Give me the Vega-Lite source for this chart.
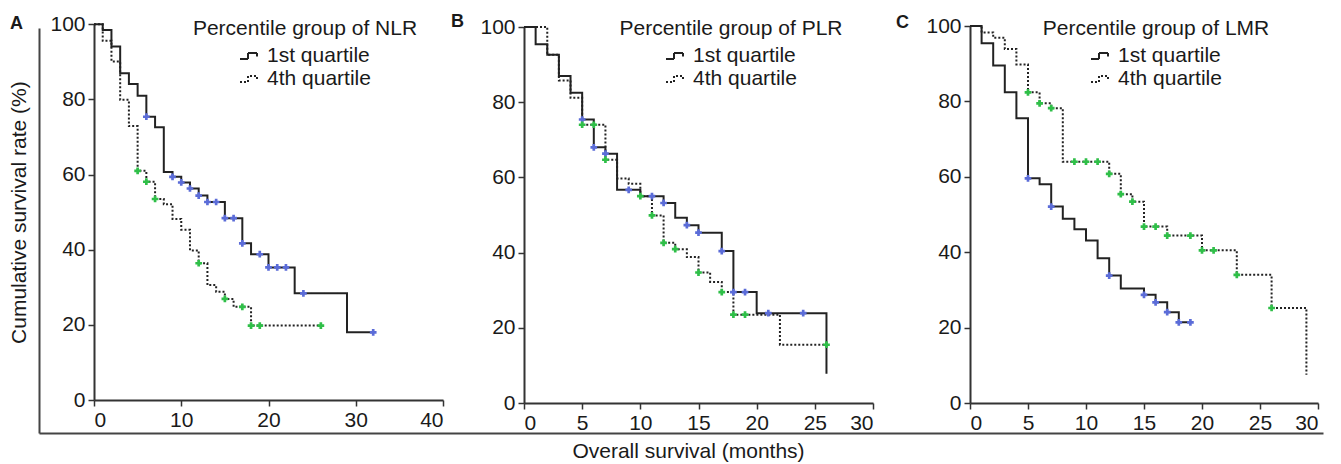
{
  "$schema": "https://vega.github.io/schema/vega-lite/v6.json",
  "width": 1284,
  "height": 405,
  "autosize": {"type": "none"},
  "padding": {"left": 39, "top": 28, "right": 18, "bottom": 31},
  "background": "white",
  "config": {
    "font": "Liberation Sans",
    "view": {"stroke": null},
    "axis": {
      "grid": false,
      "labelFont": "Liberation Sans",
      "labelFontSize": 21,
      "labelColor": "#1a1a1a",
      "domainColor": "#333333",
      "domainWidth": 2,
      "tickColor": "#333333",
      "tickWidth": 1.5,
      "tickSize": 6,
      "labelPadding": 3,
      "titleFont": "Liberation Sans",
      "titleFontSize": 21,
      "titleFontWeight": "normal",
      "titleColor": "#1a1a1a"
    },
    "legend": {
      "titleFont": "Liberation Sans",
      "titleFontSize": 21,
      "titleFontWeight": "normal",
      "titleColor": "#1a1a1a",
      "titleLimit": 600,
      "labelFont": "Liberation Sans",
      "labelFontSize": 21,
      "labelColor": "#1a1a1a",
      "labelLimit": 400,
      "titlePadding": 6,
      "rowPadding": 2,
      "padding": 0,
      "labelOffset": 6,
      "symbolType": "M-1,0.3H-0.2V-0.3H0.7V0.05",
      "symbolSize": 400,
      "symbolStrokeWidth": 2,
      "symbolStrokeColor": "#222222",
      "symbolFillColor": "transparent",
      "titleAnchor": "middle",
      "titleAlign": "center"
    }
  },
  "datasets": {
    "nlr_curve": [
      {"t": 0, "s": 100, "g": "1st quartile"}, {"t": 1, "s": 98.5, "g": "1st quartile"}, {"t": 2, "s": 94.1, "g": "1st quartile"},
      {"t": 3, "s": 87.0, "g": "1st quartile"}, {"t": 4, "s": 84.1, "g": "1st quartile"}, {"t": 5, "s": 81.0, "g": "1st quartile"},
      {"t": 6, "s": 75.4, "g": "1st quartile"}, {"t": 7, "s": 72.6, "g": "1st quartile"}, {"t": 8, "s": 60.7, "g": "1st quartile"},
      {"t": 9, "s": 59.4, "g": "1st quartile"}, {"t": 10, "s": 57.9, "g": "1st quartile"}, {"t": 11, "s": 56.3, "g": "1st quartile"},
      {"t": 12, "s": 54.4, "g": "1st quartile"}, {"t": 13, "s": 52.7, "g": "1st quartile"}, {"t": 15, "s": 48.4, "g": "1st quartile"},
      {"t": 17, "s": 41.7, "g": "1st quartile"}, {"t": 18, "s": 38.8, "g": "1st quartile"}, {"t": 20, "s": 35.3, "g": "1st quartile"},
      {"t": 23, "s": 28.4, "g": "1st quartile"}, {"t": 29, "s": 18.0, "g": "1st quartile"}, {"t": 32, "s": 18.0, "g": "1st quartile"},
      {"t": 0, "s": 100, "g": "4th quartile"}, {"t": 1, "s": 95.6, "g": "4th quartile"}, {"t": 2, "s": 90.1, "g": "4th quartile"},
      {"t": 3, "s": 79.9, "g": "4th quartile"}, {"t": 4, "s": 72.9, "g": "4th quartile"}, {"t": 5, "s": 61.0, "g": "4th quartile"},
      {"t": 6, "s": 58.1, "g": "4th quartile"}, {"t": 7, "s": 53.5, "g": "4th quartile"}, {"t": 8, "s": 52.1, "g": "4th quartile"},
      {"t": 9, "s": 48.2, "g": "4th quartile"}, {"t": 10, "s": 45.3, "g": "4th quartile"}, {"t": 11, "s": 39.8, "g": "4th quartile"},
      {"t": 12, "s": 36.4, "g": "4th quartile"}, {"t": 13, "s": 30.6, "g": "4th quartile"}, {"t": 14, "s": 28.8, "g": "4th quartile"},
      {"t": 15, "s": 26.9, "g": "4th quartile"}, {"t": 16, "s": 24.8, "g": "4th quartile"}, {"t": 18, "s": 19.8, "g": "4th quartile"},
      {"t": 26, "s": 19.8, "g": "4th quartile"}
    ],
    "nlr_cens": [
      {"t": 6, "s": 75.4, "c": "q1"}, {"t": 9, "s": 59.4, "c": "q1"}, {"t": 10, "s": 57.9, "c": "q1"},
      {"t": 11, "s": 56.3, "c": "q1"}, {"t": 12, "s": 54.4, "c": "q1"}, {"t": 13, "s": 52.7, "c": "q1"},
      {"t": 14, "s": 52.7, "c": "q1"}, {"t": 15, "s": 48.4, "c": "q1"}, {"t": 16, "s": 48.4, "c": "q1"},
      {"t": 17, "s": 41.7, "c": "q1"}, {"t": 19, "s": 38.8, "c": "q1"}, {"t": 20, "s": 35.3, "c": "q1"},
      {"t": 21, "s": 35.3, "c": "q1"}, {"t": 22, "s": 35.3, "c": "q1"}, {"t": 24, "s": 28.4, "c": "q1"},
      {"t": 32, "s": 18.0, "c": "q1"},
      {"t": 5, "s": 61.0, "c": "q4"}, {"t": 6, "s": 58.1, "c": "q4"}, {"t": 7, "s": 53.5, "c": "q4"},
      {"t": 12, "s": 36.4, "c": "q4"}, {"t": 15, "s": 26.9, "c": "q4"}, {"t": 17, "s": 24.8, "c": "q4"},
      {"t": 18, "s": 19.8, "c": "q4"}, {"t": 19, "s": 19.8, "c": "q4"}, {"t": 26, "s": 19.8, "c": "q4"}
    ],
    "plr_curve": [
      {"t": 0, "s": 100, "g": "1st quartile"}, {"t": 1, "s": 95.4, "g": "1st quartile"}, {"t": 2, "s": 92.6, "g": "1st quartile"},
      {"t": 3, "s": 87.0, "g": "1st quartile"}, {"t": 4, "s": 82.5, "g": "1st quartile"}, {"t": 5, "s": 75.4, "g": "1st quartile"},
      {"t": 6, "s": 68.0, "g": "1st quartile"}, {"t": 7, "s": 66.3, "g": "1st quartile"}, {"t": 8, "s": 56.7, "g": "1st quartile"},
      {"t": 10, "s": 55.0, "g": "1st quartile"}, {"t": 12, "s": 53.2, "g": "1st quartile"}, {"t": 13, "s": 49.3, "g": "1st quartile"},
      {"t": 14, "s": 47.3, "g": "1st quartile"}, {"t": 15, "s": 45.3, "g": "1st quartile"}, {"t": 17, "s": 40.4, "g": "1st quartile"},
      {"t": 18, "s": 29.5, "g": "1st quartile"}, {"t": 20, "s": 23.9, "g": "1st quartile"}, {"t": 26, "s": 7.8, "g": "1st quartile"},
      {"t": 0, "s": 100, "g": "4th quartile"}, {"t": 2, "s": 92.6, "g": "4th quartile"}, {"t": 3, "s": 85.8, "g": "4th quartile"},
      {"t": 4, "s": 81.2, "g": "4th quartile"}, {"t": 5, "s": 74.0, "g": "4th quartile"}, {"t": 7, "s": 64.7, "g": "4th quartile"},
      {"t": 8, "s": 59.7, "g": "4th quartile"}, {"t": 9, "s": 58.3, "g": "4th quartile"}, {"t": 10, "s": 55.0, "g": "4th quartile"},
      {"t": 11, "s": 49.9, "g": "4th quartile"}, {"t": 12, "s": 42.6, "g": "4th quartile"}, {"t": 13, "s": 40.9, "g": "4th quartile"},
      {"t": 14, "s": 38.8, "g": "4th quartile"}, {"t": 15, "s": 34.7, "g": "4th quartile"}, {"t": 16, "s": 32.2, "g": "4th quartile"},
      {"t": 17, "s": 29.5, "g": "4th quartile"}, {"t": 18, "s": 23.5, "g": "4th quartile"}, {"t": 22, "s": 15.5, "g": "4th quartile"},
      {"t": 26, "s": 15.5, "g": "4th quartile"}
    ],
    "plr_cens": [
      {"t": 5, "s": 75.4, "c": "q1"}, {"t": 6, "s": 68.0, "c": "q1"}, {"t": 7, "s": 66.3, "c": "q1"},
      {"t": 9, "s": 56.7, "c": "q1"}, {"t": 11, "s": 55.0, "c": "q1"}, {"t": 12, "s": 53.2, "c": "q1"},
      {"t": 14, "s": 47.3, "c": "q1"}, {"t": 15, "s": 45.3, "c": "q1"}, {"t": 17, "s": 40.4, "c": "q1"},
      {"t": 18, "s": 29.5, "c": "q1"}, {"t": 19, "s": 29.5, "c": "q1"}, {"t": 21, "s": 23.9, "c": "q1"},
      {"t": 24, "s": 23.9, "c": "q1"},
      {"t": 5, "s": 74.0, "c": "q4"}, {"t": 6, "s": 74.0, "c": "q4"}, {"t": 7, "s": 64.7, "c": "q4"},
      {"t": 10, "s": 55.0, "c": "q4"}, {"t": 11, "s": 49.9, "c": "q4"}, {"t": 12, "s": 42.6, "c": "q4"},
      {"t": 13, "s": 40.9, "c": "q4"}, {"t": 15, "s": 34.7, "c": "q4"}, {"t": 17, "s": 29.5, "c": "q4"},
      {"t": 18, "s": 23.5, "c": "q4"}, {"t": 19, "s": 23.5, "c": "q4"}, {"t": 26, "s": 15.5, "c": "q4"}
    ],
    "lmr_curve": [
      {"t": 0, "s": 100, "g": "1st quartile"}, {"t": 1, "s": 95.4, "g": "1st quartile"}, {"t": 2, "s": 89.5, "g": "1st quartile"},
      {"t": 3, "s": 82.4, "g": "1st quartile"}, {"t": 4, "s": 75.5, "g": "1st quartile"}, {"t": 5, "s": 59.6, "g": "1st quartile"},
      {"t": 6, "s": 58.0, "g": "1st quartile"}, {"t": 7, "s": 52.1, "g": "1st quartile"}, {"t": 8, "s": 48.9, "g": "1st quartile"},
      {"t": 9, "s": 46.1, "g": "1st quartile"}, {"t": 10, "s": 43.1, "g": "1st quartile"}, {"t": 11, "s": 38.4, "g": "1st quartile"},
      {"t": 12, "s": 33.8, "g": "1st quartile"}, {"t": 13, "s": 30.4, "g": "1st quartile"}, {"t": 15, "s": 28.7, "g": "1st quartile"},
      {"t": 16, "s": 26.7, "g": "1st quartile"}, {"t": 17, "s": 24.1, "g": "1st quartile"}, {"t": 18, "s": 21.4, "g": "1st quartile"},
      {"t": 19, "s": 21.4, "g": "1st quartile"},
      {"t": 0, "s": 100, "g": "4th quartile"}, {"t": 1, "s": 98.3, "g": "4th quartile"}, {"t": 2, "s": 96.9, "g": "4th quartile"},
      {"t": 3, "s": 93.9, "g": "4th quartile"}, {"t": 4, "s": 89.8, "g": "4th quartile"}, {"t": 5, "s": 82.4, "g": "4th quartile"},
      {"t": 6, "s": 79.5, "g": "4th quartile"}, {"t": 7, "s": 78.2, "g": "4th quartile"}, {"t": 8, "s": 64.0, "g": "4th quartile"},
      {"t": 12, "s": 60.8, "g": "4th quartile"}, {"t": 13, "s": 55.4, "g": "4th quartile"}, {"t": 14, "s": 53.4, "g": "4th quartile"},
      {"t": 15, "s": 46.8, "g": "4th quartile"}, {"t": 17, "s": 44.4, "g": "4th quartile"}, {"t": 20, "s": 40.5, "g": "4th quartile"},
      {"t": 23, "s": 34.0, "g": "4th quartile"}, {"t": 26, "s": 25.2, "g": "4th quartile"}, {"t": 29, "s": 7.5, "g": "4th quartile"}
    ],
    "lmr_cens": [
      {"t": 5, "s": 59.6, "c": "q1"}, {"t": 7, "s": 52.1, "c": "q1"}, {"t": 12, "s": 33.8, "c": "q1"},
      {"t": 15, "s": 28.7, "c": "q1"}, {"t": 16, "s": 26.7, "c": "q1"}, {"t": 17, "s": 24.1, "c": "q1"},
      {"t": 18, "s": 21.4, "c": "q1"}, {"t": 19, "s": 21.4, "c": "q1"},
      {"t": 5, "s": 82.4, "c": "q4"}, {"t": 6, "s": 79.5, "c": "q4"}, {"t": 7, "s": 78.2, "c": "q4"},
      {"t": 9, "s": 64.0, "c": "q4"}, {"t": 10, "s": 64.0, "c": "q4"}, {"t": 11, "s": 64.0, "c": "q4"},
      {"t": 12, "s": 60.8, "c": "q4"}, {"t": 13, "s": 55.4, "c": "q4"}, {"t": 14, "s": 53.4, "c": "q4"},
      {"t": 15, "s": 46.8, "c": "q4"}, {"t": 16, "s": 46.8, "c": "q4"}, {"t": 17, "s": 44.4, "c": "q4"},
      {"t": 19, "s": 44.4, "c": "q4"}, {"t": 20, "s": 40.5, "c": "q4"}, {"t": 21, "s": 40.5, "c": "q4"},
      {"t": 23, "s": 34.0, "c": "q4"}, {"t": 26, "s": 25.2, "c": "q4"}
    ],
    "frame": [{"f": 0}]
  },
  "layer": [
    {
      "data": {"name": "frame"},
      "mark": {"type": "point", "opacity": 0},
      "encoding": {
        "x": {"datum": 0, "type": "quantitative", "scale": {"domain": [0, 1]},
          "axis": {"orient": "bottom", "offset": 0, "ticks": false, "labels": false, "domainColor": "#444444", "domainWidth": 2,
            "title": "Overall survival (months)", "titlePadding": 7, "titleX": 649}},
        "y": {"datum": 0, "type": "quantitative", "scale": {"domain": [0, 1]},
          "axis": {"orient": "left", "offset": 0, "ticks": false, "labels": false, "domainColor": "#444444", "domainWidth": 2,
            "title": "A", "titleAngle": 0, "titleX": -23, "titleY": 0, "titleAlign": "center", "titleBaseline": "alphabetic",
            "titleFontWeight": "bold", "titleFontSize": 18}}
      }
    },
    {
      "encoding": {
        "x": {"field": "t", "type": "quantitative", "scale": {"domain": [0, 40], "range": [55, 404]},
          "axis": {"orient": "bottom", "offset": -33, "values": [0, 10, 20, 30, 40], "title": null}},
        "y": {"field": "s", "type": "quantitative", "scale": {"domain": [0, 100], "range": [372, -3.7]},
          "axis": {"orient": "left", "offset": -55, "values": [0, 20, 40, 60, 80, 100], "title": "Cumulative survival rate (%)", "titlePadding": 20}}
      },
      "layer": [
        {
          "data": {"name": "nlr_curve"},
          "mark": {"type": "line", "interpolate": "step-after", "color": "#222222", "strokeWidth": 2},
          "encoding": {
            "strokeDash": {"field": "g", "type": "nominal",
              "scale": {"domain": ["1st quartile", "4th quartile"], "range": [[1, 0], [2, 2]]},
              "legend": {"title": "Percentile group of NLR", "orient": "none", "legendX": 154, "legendY": -10}}
          }
        },
        {
          "data": {"name": "nlr_cens"},
          "mark": {"type": "point", "shape": "cross", "filled": true, "size": 45, "opacity": 1},
          "encoding": {
            "color": {"field": "c", "type": "nominal",
              "scale": {"domain": ["q1", "q4"], "range": ["#5b6cd8", "#2fbf48"]}, "legend": null}
          }
        }
      ]
    },
    {
      "encoding": {
        "x": {"field": "t", "type": "quantitative", "scale": {"domain": [0, 30], "range": [485, 834]},
          "axis": {"orient": "bottom", "offset": -30, "values": [0, 5, 10, 15, 20, 25, 30], "title": null}},
        "y": {"field": "s", "type": "quantitative", "scale": {"domain": [0, 100], "range": [375, -1]},
          "axis": {"orient": "left", "offset": -485, "values": [0, 20, 40, 60, 80, 100], "title": "B", "titleAngle": 0,
            "titleX": -67, "titleY": -2, "titleAlign": "center", "titleBaseline": "alphabetic", "titleFontWeight": "bold", "titleFontSize": 18}}
      },
      "layer": [
        {
          "data": {"name": "plr_curve"},
          "mark": {"type": "line", "interpolate": "step-after", "color": "#222222", "strokeWidth": 2},
          "encoding": {
            "strokeDash": {"field": "g", "type": "nominal",
              "scale": {"domain": ["1st quartile", "4th quartile"], "range": [[1, 0], [2, 2]]},
              "legend": {"title": "Percentile group of PLR", "orient": "none", "legendX": 581, "legendY": -10}}
          }
        },
        {
          "data": {"name": "plr_cens"},
          "mark": {"type": "point", "shape": "cross", "filled": true, "size": 45, "opacity": 1},
          "encoding": {
            "color": {"field": "c", "type": "nominal",
              "scale": {"domain": ["q1", "q4"], "range": ["#5b6cd8", "#2fbf48"]}, "legend": null}
          }
        }
      ]
    },
    {
      "encoding": {
        "x": {"field": "t", "type": "quantitative", "scale": {"domain": [0, 30], "range": [931, 1279]},
          "axis": {"orient": "bottom", "offset": -30, "values": [0, 5, 10, 15, 20, 25, 30], "title": null}},
        "y": {"field": "s", "type": "quantitative", "scale": {"domain": [0, 100], "range": [375, -2]},
          "axis": {"orient": "left", "offset": -931, "values": [0, 20, 40, 60, 80, 100], "title": "C", "titleAngle": 0,
            "titleX": -68, "titleY": -1, "titleAlign": "center", "titleBaseline": "alphabetic", "titleFontWeight": "bold", "titleFontSize": 18}}
      },
      "layer": [
        {
          "data": {"name": "lmr_curve"},
          "mark": {"type": "line", "interpolate": "step-after", "color": "#222222", "strokeWidth": 2},
          "encoding": {
            "strokeDash": {"field": "g", "type": "nominal",
              "scale": {"domain": ["1st quartile", "4th quartile"], "range": [[1, 0], [2, 2]]},
              "legend": {"title": "Percentile group of LMR", "orient": "none", "legendX": 1004, "legendY": -10}}
          }
        },
        {
          "data": {"name": "lmr_cens"},
          "mark": {"type": "point", "shape": "cross", "filled": true, "size": 45, "opacity": 1},
          "encoding": {
            "color": {"field": "c", "type": "nominal",
              "scale": {"domain": ["q1", "q4"], "range": ["#5b6cd8", "#2fbf48"]}, "legend": null}
          }
        }
      ]
    }
  ],
  "resolve": {
    "scale": {"x": "independent", "y": "independent", "color": "independent", "strokeDash": "independent"},
    "axis": {"x": "independent", "y": "independent"},
    "legend": {"strokeDash": "independent", "color": "independent"}
  }
}
